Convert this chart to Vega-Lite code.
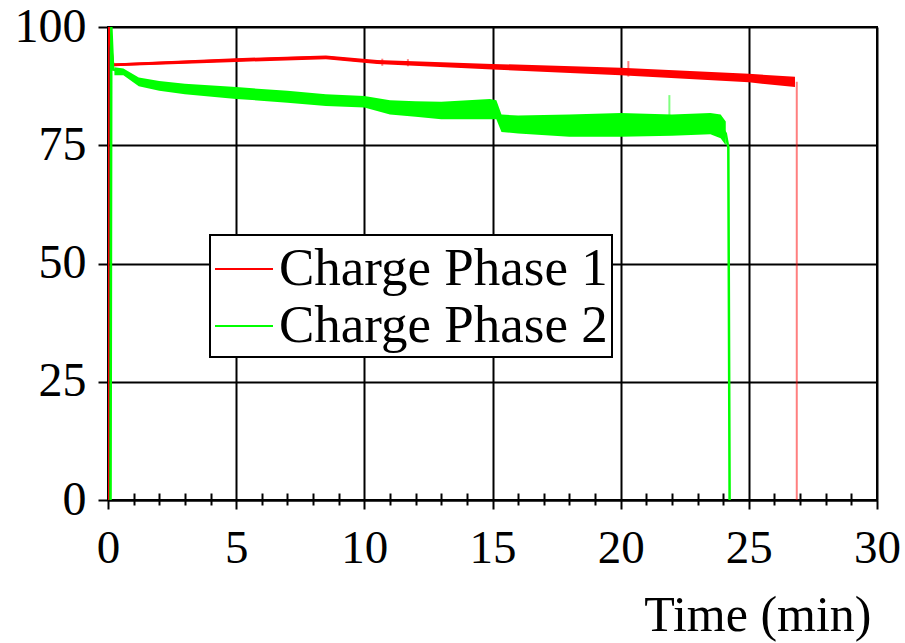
{
  "$schema": "https://vega.github.io/schema/vega-lite/v6.json",
  "width": 769,
  "height": 473,
  "autosize": "none",
  "padding": {"left": 108, "top": 27, "right": 28, "bottom": 143},
  "background": "white",
  "config": {
    "view": {"stroke": "black", "strokeWidth": 2},
    "font": "Liberation Serif",
    "axis": {
      "labelFont": "Liberation Serif",
      "titleFont": "Liberation Serif",
      "labelColor": "black",
      "titleColor": "black",
      "domainColor": "black",
      "domainWidth": 2,
      "tickColor": "black",
      "tickWidth": 2,
      "gridColor": "black",
      "gridWidth": 2,
      "gridOpacity": 1
    },
    "legend": {
      "symbolType": "stroke",
      "labelFont": "Liberation Serif"
    }
  },
  "datasets": {
    "lines": [
      {"series": "Charge Phase 1", "t": 0.0, "v": 0},
      {"series": "Charge Phase 1", "t": 0.01, "v": 101},
      {"series": "Charge Phase 1", "t": 0.2, "v": 92.0},
      {"series": "Charge Phase 1", "t": 1, "v": 92.2},
      {"series": "Charge Phase 1", "t": 3, "v": 92.6},
      {"series": "Charge Phase 1", "t": 5, "v": 93.0},
      {"series": "Charge Phase 1", "t": 7, "v": 93.4},
      {"series": "Charge Phase 1", "t": 8.5, "v": 93.6},
      {"series": "Charge Phase 1", "t": 9.5, "v": 93.1},
      {"series": "Charge Phase 1", "t": 10.5, "v": 92.6},
      {"series": "Charge Phase 1", "t": 12, "v": 92.3},
      {"series": "Charge Phase 1", "t": 15, "v": 91.6},
      {"series": "Charge Phase 1", "t": 17.5, "v": 91.1},
      {"series": "Charge Phase 1", "t": 20, "v": 90.6},
      {"series": "Charge Phase 1", "t": 22.5, "v": 89.9},
      {"series": "Charge Phase 1", "t": 25, "v": 89.2},
      {"series": "Charge Phase 1", "t": 26.8, "v": 88.4},
      {"series": "Charge Phase 2", "t": 0.1, "v": 0},
      {"series": "Charge Phase 2", "t": 0.13, "v": 100},
      {"series": "Charge Phase 2", "t": 0.2, "v": 91.0},
      {"series": "Charge Phase 2", "t": 0.6, "v": 90.5},
      {"series": "Charge Phase 2", "t": 1.2, "v": 88.4},
      {"series": "Charge Phase 2", "t": 2, "v": 87.6},
      {"series": "Charge Phase 2", "t": 3, "v": 86.9},
      {"series": "Charge Phase 2", "t": 5, "v": 86.0},
      {"series": "Charge Phase 2", "t": 7, "v": 85.2},
      {"series": "Charge Phase 2", "t": 8.5, "v": 84.5},
      {"series": "Charge Phase 2", "t": 10, "v": 84.2},
      {"series": "Charge Phase 2", "t": 11, "v": 83.0},
      {"series": "Charge Phase 2", "t": 12, "v": 82.6},
      {"series": "Charge Phase 2", "t": 13, "v": 82.3},
      {"series": "Charge Phase 2", "t": 14.9, "v": 82.6},
      {"series": "Charge Phase 2", "t": 15.15, "v": 82.5},
      {"series": "Charge Phase 2", "t": 15.35, "v": 79.6},
      {"series": "Charge Phase 2", "t": 16, "v": 79.4},
      {"series": "Charge Phase 2", "t": 18, "v": 79.1},
      {"series": "Charge Phase 2", "t": 20, "v": 79.3},
      {"series": "Charge Phase 2", "t": 22, "v": 79.2},
      {"series": "Charge Phase 2", "t": 23.5, "v": 79.5},
      {"series": "Charge Phase 2", "t": 23.9, "v": 79.0},
      {"series": "Charge Phase 2", "t": 24.1, "v": 77.5},
      {"series": "Charge Phase 2", "t": 24.2, "v": 74.5},
      {"series": "Charge Phase 2", "t": 24.25, "v": 0}
    ],
    "bands": [
      {"series": "Charge Phase 1", "t": 0.2, "lo": 91.7, "hi": 92.3},
      {"series": "Charge Phase 1", "t": 5, "lo": 92.6, "hi": 93.4},
      {"series": "Charge Phase 1", "t": 8.5, "lo": 93.2, "hi": 94.0},
      {"series": "Charge Phase 1", "t": 10.5, "lo": 92.2, "hi": 93.0},
      {"series": "Charge Phase 1", "t": 15, "lo": 91.0, "hi": 92.2},
      {"series": "Charge Phase 1", "t": 20, "lo": 89.8, "hi": 91.4},
      {"series": "Charge Phase 1", "t": 25, "lo": 88.3, "hi": 90.1},
      {"series": "Charge Phase 1", "t": 26.8, "lo": 87.3, "hi": 89.5},
      {"series": "Charge Phase 2", "t": 0.25, "lo": 89.8, "hi": 91.5},
      {"series": "Charge Phase 2", "t": 0.6, "lo": 89.8, "hi": 91.2},
      {"series": "Charge Phase 2", "t": 1.2, "lo": 87.5, "hi": 89.3},
      {"series": "Charge Phase 2", "t": 2, "lo": 86.5, "hi": 88.6},
      {"series": "Charge Phase 2", "t": 3, "lo": 85.8, "hi": 88.0},
      {"series": "Charge Phase 2", "t": 5, "lo": 84.8, "hi": 87.3},
      {"series": "Charge Phase 2", "t": 7, "lo": 84.0, "hi": 86.5},
      {"series": "Charge Phase 2", "t": 8.5, "lo": 83.3, "hi": 85.8},
      {"series": "Charge Phase 2", "t": 10, "lo": 83.0, "hi": 85.4},
      {"series": "Charge Phase 2", "t": 11, "lo": 81.5, "hi": 84.5},
      {"series": "Charge Phase 2", "t": 12, "lo": 81.0, "hi": 84.3},
      {"series": "Charge Phase 2", "t": 13, "lo": 80.5, "hi": 84.2},
      {"series": "Charge Phase 2", "t": 14.9, "lo": 80.5, "hi": 84.8},
      {"series": "Charge Phase 2", "t": 15.15, "lo": 80.5, "hi": 84.5},
      {"series": "Charge Phase 2", "t": 15.35, "lo": 77.8, "hi": 81.5},
      {"series": "Charge Phase 2", "t": 16, "lo": 77.5, "hi": 81.3},
      {"series": "Charge Phase 2", "t": 18, "lo": 76.8, "hi": 81.5},
      {"series": "Charge Phase 2", "t": 20, "lo": 76.8, "hi": 81.8},
      {"series": "Charge Phase 2", "t": 22, "lo": 77.0, "hi": 81.5},
      {"series": "Charge Phase 2", "t": 23.5, "lo": 77.3, "hi": 81.8},
      {"series": "Charge Phase 2", "t": 23.9, "lo": 76.5, "hi": 81.5},
      {"series": "Charge Phase 2", "t": 24.1, "lo": 75.0, "hi": 80.0}
    ],
    "spikes": [
      {"series": "Charge Phase 1", "t": 10.7, "lo": 91.8, "hi": 93.3},
      {"series": "Charge Phase 1", "t": 11.7, "lo": 91.7, "hi": 93.2},
      {"series": "Charge Phase 1", "t": 20.3, "lo": 89.5, "hi": 92.8},
      {"series": "Charge Phase 2", "t": 21.9, "lo": 81.0, "hi": 85.6},
      {"series": "Charge Phase 1", "t": 26.87, "lo": 0, "hi": 88.4}
    ]
  },
  "layer": [
    {
      "data": {"name": "bands"},
      "mark": {"type": "area", "clip": true, "opacity": 1},
      "encoding": {
        "x": {
          "field": "t", "type": "quantitative",
          "scale": {"domain": [0, 30], "nice": false},
          "axis": {
            "orient": "bottom",
            "values": [1,2,3,4,6,7,8,9,11,12,13,14,16,17,18,19,21,22,23,24,26,27,28,29],
            "offset": -7,
            "tickSize": 12,
            "domain": false,
            "labels": false,
            "grid": false,
            "title": null
          }
        },
        "y": {
          "field": "lo", "type": "quantitative", "title": null,
          "scale": {"domain": [0, 100], "nice": false},
          "axis": {
            "values": [0, 25, 50, 75, 100],
            "grid": true,
            "tickSize": 10,
            "labelFontSize": 48,
            "labelPadding": 12,
            "labelFlush": false,
            "title": null
          }
        },
        "y2": {"field": "hi"},
        "color": {
          "field": "series", "type": "nominal", "title": null,
          "scale": {"domain": ["Charge Phase 1", "Charge Phase 2"], "range": ["#ff0000", "#00ff00"]}
        },
        "detail": {"field": "series"}
      }
    },
    {
      "data": {"name": "spikes"},
      "mark": {"type": "rule", "clip": true, "opacity": 0.5, "strokeWidth": 2},
      "encoding": {
        "x": {"field": "t", "type": "quantitative", "title": null, "axis": null},
        "y": {"field": "lo", "type": "quantitative", "title": null},
        "y2": {"field": "hi"},
        "color": {"field": "series", "type": "nominal", "title": null}
      }
    },
    {
      "data": {"name": "lines"},
      "mark": {"type": "line", "clip": true, "strokeWidth": 2.5},
      "encoding": {
        "x": {
          "field": "t", "type": "quantitative",
          "axis": {
            "orient": "bottom",
            "values": [0, 5, 10, 15, 20, 25, 30],
            "grid": true,
            "tickSize": 9,
            "labelFontSize": 47,
            "labelPadding": 16,
            "labelFlush": false,
            "title": "Time (min)",
            "titleFontSize": 50,
            "titleFontWeight": "normal",
            "titleAnchor": "end",
            "titleAlign": "right",
            "titleX": 763,
            "titlePadding": 19
          }
        },
        "y": {"field": "v", "type": "quantitative", "title": null},
        "color": {
          "field": "series", "type": "nominal", "title": null,
          "legend": {
            "title": null,
            "orient": "none",
            "legendX": 102,
            "legendY": 208,
            "symbolType": "stroke",
            "symbolSize": 3364,
            "symbolStrokeWidth": 2,
            "labelFontSize": 53,
            "labelColor": "black",
            "labelOffset": 5,
            "labelLimit": 0,
            "padding": 4,
            "rowPadding": 0,
            "strokeColor": "black",
            "fillColor": "white",
            "encode": {"legend": {"update": {"strokeWidth": {"value": 2}}}}
          }
        },
        "order": {"field": "t", "type": "quantitative"}
      }
    }
  ],
  "resolve": {"axis": {"x": "independent"}}
}
